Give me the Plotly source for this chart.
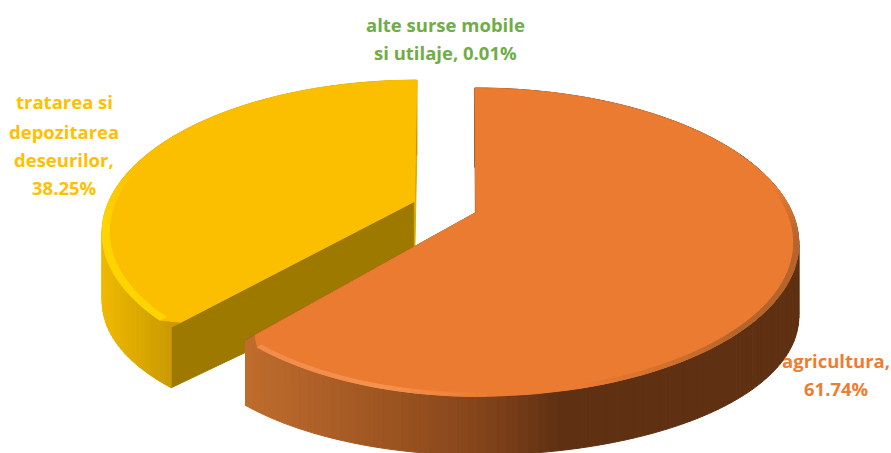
import math
import plotly.graph_objects as go

categories = ["agricultura", "tratarea si depozitarea deseurilor", "alte surse mobile si utilaje"]
shares = [61.74, 38.25, 0.01]
label_lines = [["agricultura,"], ["tratarea si", "depozitarea", "deseurilor,"], ["alte surse mobile", "si utilaje,"]]
label_colors = ["#ED7D31", "#FFC000", "#70AD47"]

W, H = 891, 453
XC, YC = 445.0, 207.0
A, B, K = 314.0, 147.4, 0.199
M = 0.166
EXPLODE = 0.105


def lerp_hex(stops, t):
    if t <= stops[0][0]:
        return stops[0][1]
    for (t0, c0), (t1, c1) in zip(stops, stops[1:]):
        if t <= t1:
            f = (t - t0) / (t1 - t0)
            a = [int(c0[i:i + 2], 16) for i in (1, 3, 5)]
            b = [int(c1[i:i + 2], 16) for i in (1, 3, 5)]
            return "#%02x%02x%02x" % tuple(round(u + (v - u) * f) for u, v in zip(a, b))
    return stops[-1][1]


STY = [
    dict(top="#EB7B31", start_face="#6B3A12", end_face="#6B3A12",
         wall=[(240, "#C06E2E"), (400, "#9A5220"), (480, "#84441B"), (560, "#5F3012"), (800, "#5F3012")],
         rim=[(80, "#EB7B31"), (100, "#B5652B"), (135, "#B5652B"), (165, "#EB7B31"), (178, "#EB7B31"), (195, "#F59250"), (225, "#F08A48")],
         rim_in=0.985, depth=88.0, shear=5.0, fx_right=1.0, fx_left=0.928, fy_front=0.985, corner="end"),
    dict(top="#FBBF00", start_face="#9E7900", end_face="#D9AB00",
         wall=[(100, "#F0BA00"), (175, "#C89800"), (200, "#C89800")],
         rim=[(220, "#FFD500"), (262, "#FFD500"), (285, "#FBBF00"), (360, "#FBBF00")],
         rim_in=0.978, depth=82.0, shear=-3.0, fx_right=1.0, fx_left=0.98, fy_front=1.0, corner="start"),
]

fig = go.Figure()


def poly(points, color):
    xs = [p[0] for p in points] + [points[0][0]]
    ys = [p[1] for p in points] + [points[0][1]]
    fig.add_trace(go.Scatter(x=xs, y=ys, mode="lines", fill="toself", fillcolor=color,
                             line=dict(color=color, width=1), hoverinfo="skip", showlegend=False))


starts = []
acc = 0.0
for v in shares:
    starts.append(acc)
    acc += v * 3.6

for i in (1, 0):
    a0 = starts[i]
    a1 = a0 + shares[i] * 3.6
    mid = math.radians((a0 + a1) / 2)
    ox, oy = EXPLODE * math.sin(mid), EXPLODE * math.cos(mid)
    sty = STY[i]

    def pt(ang, r, bottom):
        t = math.radians(ang)
        xr, yr = r * math.sin(t), r * math.cos(t)
        xr *= sty["fx_right"] if xr > 0 else sty["fx_left"]
        yr *= sty["fy_front"] if yr < 0 else 1.0
        X, Y = ox + xr, oy + yr
        w = 1 + K * Y
        px = XC + (A * X + sty["shear"] * Y) / w
        py = YC - B * Y / w if not bottom else YC - (B * Y - sty["depth"]) / (w + M)
        return px, py

    n = int((a1 - a0) / 1.5)
    angs = [a0 + (a1 - a0) * j / n for j in range(n + 1)]
    # radial faces
    poly([pt(a0, 0, 0), pt(a0, 1, 0), pt(a0, 1, 1), pt(a0, 0, 1)], sty["start_face"])
    poly([pt(a1, 0, 0), pt(a1, 1, 0), pt(a1, 1, 1), pt(a1, 0, 1)], sty["end_face"])
    # outer wall
    for u, v in zip(angs, angs[1:]):
        q = [pt(u, 1, 0), pt(v, 1, 0), pt(v, 1, 1), pt(u, 1, 1)]
        poly(q, lerp_hex(sty["wall"], sum(p[0] for p in q) / 4))
    # top face, with the outer front corner softly rounded
    if sty["corner"] == "start":
        arc = [a for a in angs if a > a0 + 2]
        corner_tri = [pt(a0, 0.965, 0), pt(a0, 1, 0), pt(arc[0], 1, 0)]
        outline = [pt(a0, 0, 0), pt(a0, 0.965, 0)] + [pt(a, 1, 0) for a in arc]
    else:
        arc = [a for a in angs if a < a1 - 2]
        corner_tri = [pt(a1, 0.965, 0), pt(a1, 1, 0), pt(arc[-1], 1, 0)]
        outline = [pt(a0, 0, 0)] + [pt(a, 1, 0) for a in arc] + [pt(a1, 0.965, 0)]
    poly(corner_tri, lerp_hex(sty["wall"], corner_tri[1][0]))
    poly(outline, sty["top"])
    # bevel
    for u, v in zip(arc, arc[1:]):
        m = (u + v) / 2
        c = lerp_hex(sty["rim"], m)
        if c.lower() == sty["top"].lower():
            continue
        poly([pt(u, sty["rim_in"], 0), pt(v, sty["rim_in"], 0), pt(v, 1, 0), pt(u, 1, 0)], c)

# labels
placements = [(836, [360, 388]), (64, [101, 131, 159, 187]), (445, [24, 52])]
for i, (cx, ys) in enumerate(placements):
    lines = list(label_lines[i])
    if i == 2:
        lines[-1] = f"{lines[-1]} {shares[i]:.2f}%"
    else:
        lines = lines + [f"{shares[i]:.2f}%"]
    for line, y in zip(lines, ys):
        fig.add_annotation(x=cx, y=y, text=line, showarrow=False, xanchor="center", yanchor="middle",
                           font=dict(family="Open Sans", size=18.5, color=label_colors[i], weight="bold"))

fig.update_layout(width=W, height=H, margin=dict(l=0, r=0, t=0, b=0), showlegend=False,
                  paper_bgcolor="white", plot_bgcolor="white", hovermode=False,
                  xaxis=dict(range=[0, W], visible=False, fixedrange=True),
                  yaxis=dict(range=[H, 0], visible=False, fixedrange=True))
fig.write_html("out.html", config={"displayModeBar": False},
               post_script="document.body.style.margin='0';document.documentElement.style.overflow='hidden';")
